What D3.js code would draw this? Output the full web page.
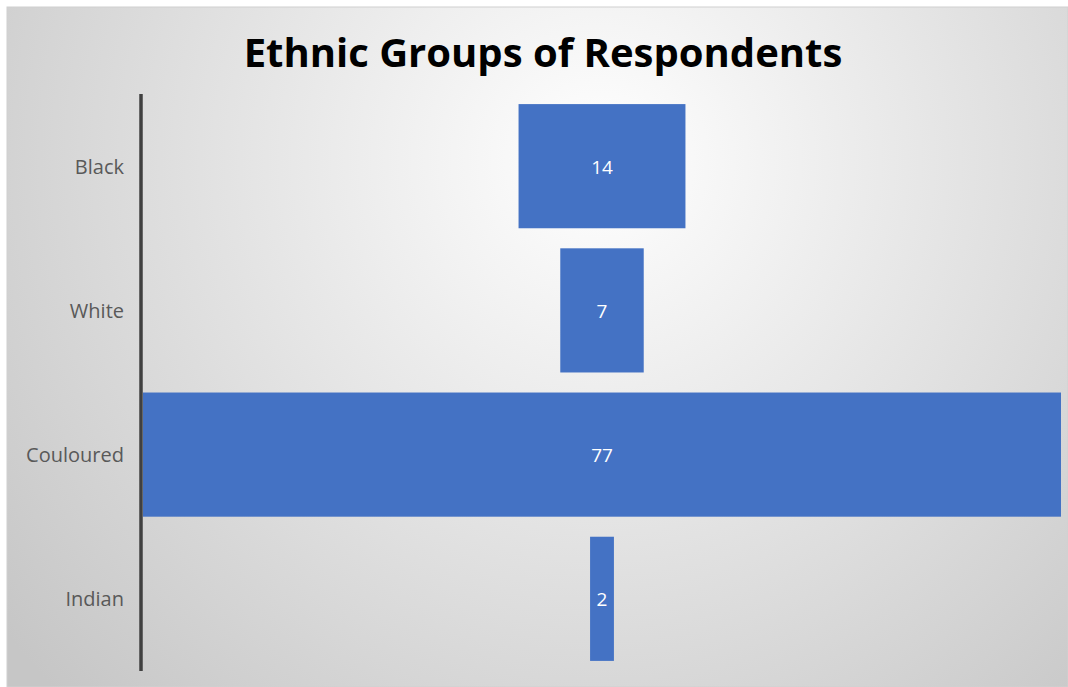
<!DOCTYPE html>
<html>
<head>
<meta charset="utf-8">
<script src="https://cdn.jsdelivr.net/npm/d3@7"></script>
<style>
  html, body { margin: 0; padding: 0; background: #ffffff; }
  svg { display: block; }
</style>
</head>
<body>
<script>
// Respondent counts by ethnic group, drawn as a centred funnel
const categories = ["Black", "White", "Couloured", "Indian"];
const counts = [14, 7, 77, 2];
const title = "Ethnic Groups of Respondents";

const W = 1068, H = 687;
const svg = d3.select("body").append("svg").attr("width", W).attr("height", H);

const defs = svg.append("defs");
const grad = defs.append("radialGradient")
  .attr("id", "bg").attr("gradientUnits", "userSpaceOnUse")
  .attr("cx", 600).attr("cy", 160).attr("r", 760);
grad.append("stop").attr("offset", "0%").attr("stop-color", "#ffffff");
grad.append("stop").attr("offset", "100%").attr("stop-color", "#c6c6c6");

// chart area with light frame
svg.append("rect")
  .attr("x", 7).attr("y", 7).attr("width", W - 7).attr("height", H - 7)
  .attr("fill", "url(#bg)")
  .attr("stroke", "#d0d0d0").attr("stroke-width", 1);

svg.append("text")
  .attr("x", 543).attr("y", 67)
  .attr("text-anchor", "middle")
  .attr("font-family", "'Open Sans', sans-serif")
  .attr("font-weight", 700)
  .attr("font-size", 40)
  .attr("fill", "#000")
  .text(title);

const plotLeft = 143, plotRight = 1061;
const centre = (plotLeft + plotRight) / 2;
const x = d3.scaleLinear().domain([0, d3.max(counts)]).range([0, plotRight - plotLeft]);
const y = d3.scaleBand().domain(categories).range([94, 671]).paddingInner(0.139).paddingOuter(0.07);

const rows = categories.map((c, i) => ({ name: c, value: counts[i] }));

svg.selectAll("rect.bar").data(rows).join("rect")
  .attr("class", "bar")
  .attr("x", d => centre - x(d.value) / 2)
  .attr("y", d => y(d.name))
  .attr("width", d => x(d.value))
  .attr("height", y.bandwidth())
  .attr("fill", "#4472c4");

svg.selectAll("text.val").data(rows).join("text")
  .attr("class", "val")
  .attr("x", centre)
  .attr("y", d => y(d.name) + y.bandwidth() / 2 + 1)
  .attr("dy", "0.35em")
  .attr("text-anchor", "middle")
  .attr("font-family", "'Open Sans', sans-serif")
  .attr("font-size", 19)
  .attr("fill", "#ffffff")
  .text(d => d.value);

// category axis on the left
const axis = svg.append("g").attr("transform", "translate(141,0)")
  .call(d3.axisLeft(y).tickSize(0).tickPadding(17));
axis.select(".domain").attr("stroke", "#404040").attr("stroke-width", 3.5)
  .attr("d", "M0,94V671");
axis.selectAll("text")
  .attr("font-family", "'Open Sans', sans-serif")
  .attr("font-size", 20)
  .attr("fill", "#595959")
  .attr("y", 1);
</script>
</body>
</html>
